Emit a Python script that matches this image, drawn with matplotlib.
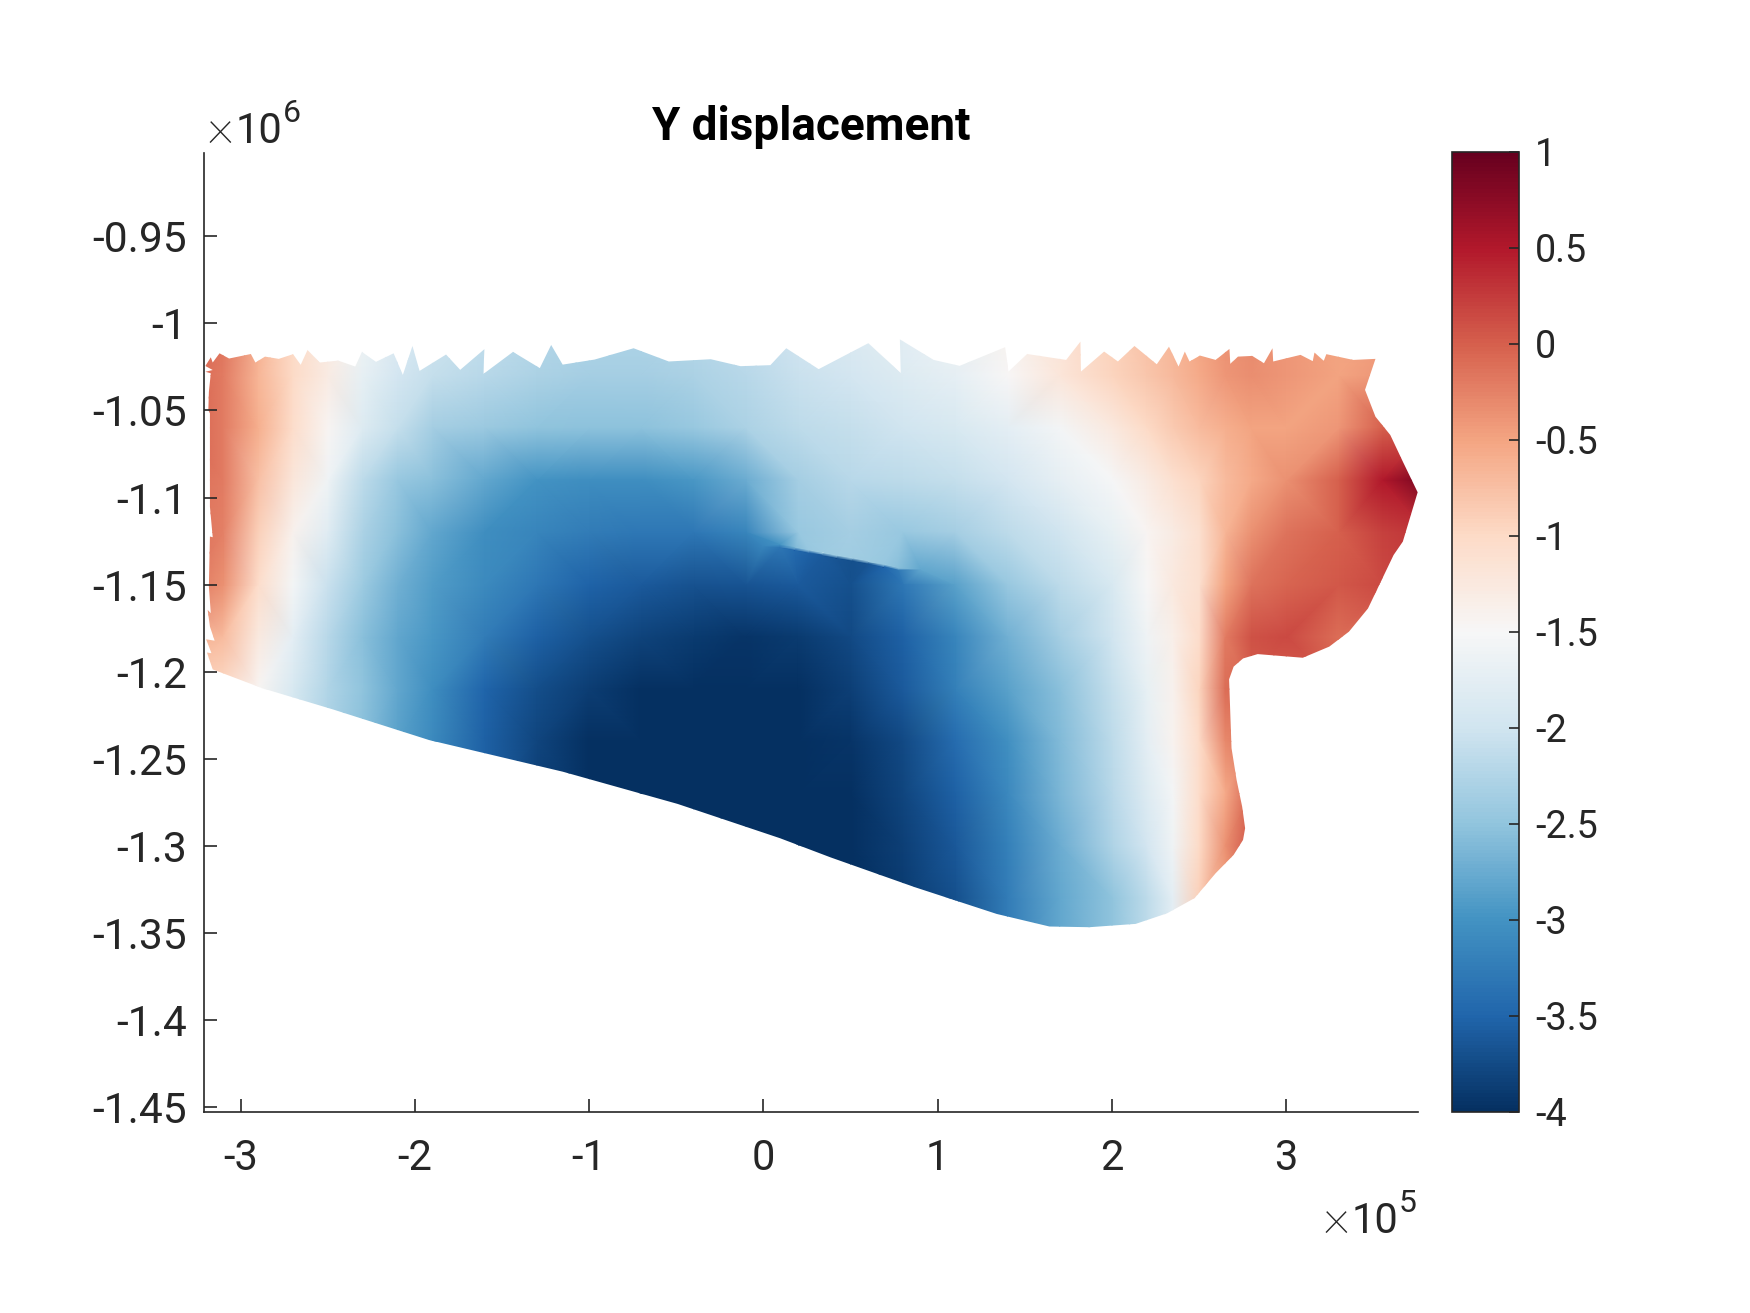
import numpy as np
import matplotlib
matplotlib.use('Agg')
import matplotlib.pyplot as plt
import matplotlib.tri as mtri
from matplotlib.patches import Polygon
from matplotlib.cm import ScalarMappable
from matplotlib.colors import Normalize

plt.rcParams['font.family'] = ['Roboto', 'DejaVu Sans']

# Displacement, x in 1e5, y in 1e6
x_cols = [-3.3, -3.1, -2.9, -2.7, -2.5, -2.3, -2.1, -1.9, -1.6, -1.3, -1.0, -0.7, -0.4, -0.1, 0.2,
          0.5, 0.8, 1.1, 1.4, 1.7, 2.0, 2.2, 2.35, 2.5, 2.65, 2.8, 3.0, 3.3, 3.55, 3.8]
y_rows = [-1.00, -1.03, -1.06, -1.09, -1.12, -1.15, -1.18, -1.21, -1.24, -1.27, -1.30, -1.33, -1.36]

r100 = [0, -.15, -.6, -1, -1.25, -1.6, -1.85, -2, -2.1, -2.2, -2.25, -2.25, -2.2, -2.1, -1.95,
        -1.85, -1.75, -1.6, -1.4, -1.15, -.9, -.75, -.65, -.5, -.35, -.3, -.4, -.5, -.45, -.4]
r103 = [-.05, -.2, -.65, -1, -1.3, -1.7, -1.95, -2.1, -2.2, -2.3, -2.35, -2.35, -2.3, -2.2, -2.05,
        -1.95, -1.85, -1.72, -1.5, -1.2, -.95, -.8, -.68, -.55, -.4, -.33, -.4, -.5, -.4, -.4]
r106 = [0, -.2, -.6, -1.05, -1.45, -1.85, -2.1, -2.35, -2.42, -2.5, -2.52, -2.52, -2.45, -2.3, -2.15,
        -2.1, -2, -1.9, -1.75, -1.55, -1.25, -1, -.85, -.7, -.6, -.5, -.5, -.4, 0, .1]
r109 = [-.1, -.2, -.75, -1.2, -1.6, -2.15, -2.45, -2.55, -2.8, -3, -3.05, -3.05, -2.95, -2.75, -2.35,
        -2.2, -2.15, -2.1, -1.95, -1.72, -1.52, -1.3, -1.1, -.95, -.7, -.55, -.35, 0, .5, .9]
r112 = [-.1, -.25, -.9, -1.4, -1.8, -2.3, -2.55, -2.8, -3.05, -3.15, -3.25, -3.3, -3.3, -3.15, -2.45,
        -2.35, -2.45, -2.35, -2.15, -2, -1.7, -1.45, -1.3, -1.1, -.65, -.35, -.15, 0, .2, .3]
r115 = [-.15, -.35, -1.05, -1.55, -2.05, -2.4, -2.7, -2.9, -3.1, -3.3, -3.52, -3.6, -3.68, -3.65, -3.6,
        -3.7, -3.3, -2.85, -2.45, -2.15, -1.9, -1.5, -1.25, -1.1, -.5, -.15, -.05, .05, .15, .15]
r118 = [-.6, -.7, -1.25, -1.75, -2.2, -2.55, -2.8, -2.95, -3.25, -3.55, -3.7, -3.82, -3.9, -3.95, -3.9,
        -3.75, -3.55, -3.15, -2.7, -2.35, -2, -1.6, -1.35, -1.05, -.2, .1, .15, -.1, -.1, -.1]
r121 = [-.9, -1, -1.45, -1.9, -2.25, -2.5, -2.8, -3.05, -3.5, -3.72, -3.88, -4.05, -4.2, -4.2, -4.05,
        -3.85, -3.6, -3.2, -2.85, -2.55, -2.1, -1.7, -1.4, -.95, -.1, 0, 0, 0, 0, 0]
r124 = [-1, -1.1, -1.5, -2, -2.3, -2.55, -2.85, -3.1, -3.55, -3.8, -4, -4.2, -4.3, -4.3, -4.15,
        -3.95, -3.75, -3.42, -3.03, -2.6, -2.15, -1.75, -1.42, -1.03, -.3, -.1, 0, 0, 0, 0]
r127 = [-1, -1.1, -1.5, -2, -2.3, -2.55, -2.85, -3.1, -3.55, -3.85, -4.1, -4.3, -4.4, -4.4, -4.3,
        -4, -3.8, -3.55, -3.12, -2.65, -2.2, -1.85, -1.55, -1.05, -.55, 0, 0, 0, 0, 0]
r130 = [-1, -1.1, -1.5, -2, -2.3, -2.55, -2.85, -3.1, -3.55, -3.85, -4.1, -4.3, -4.4, -4.4, -4.4,
        -4.1, -3.85, -3.62, -3.2, -2.75, -2.28, -1.95, -1.6, -1, -.35, .1, .1, .1, .1, .1]
r133 = [-1, -1.1, -1.5, -2, -2.3, -2.55, -2.85, -3.1, -3.55, -3.85, -4.1, -4.3, -4.4, -4.4, -4.4,
        -4.2, -3.9, -3.7, -3.25, -2.8, -2.5, -2.15, -1.75, -.9, -.5, 0, 0, 0, 0, 0]
r136 = [-1, -1.1, -1.5, -2, -2.3, -2.55, -2.85, -3.1, -3.55, -3.85, -4.1, -4.3, -4.4, -4.4, -4.4,
        -4.2, -3.9, -3.7, -3.25, -2.8, -2.5, -2.15, -1.75, -.9, -.5, 0, 0, 0, 0, 0]
field_rows = [r100, r103, r106, r109, r112, r115, r118, r121, r124, r127, r130, r133, r136]

# Fault: values jump across this line
fault_x = [0.095, 0.18, 0.26, 0.337, 0.42, 0.51, 0.602, 0.69, 0.771]
fault_y = [-1.1278, -1.1294, -1.1310, -1.1325, -1.1340, -1.1356, -1.1373, -1.1392, -1.1411]
fault_upper = [-3.0, -2.6, -2.45, -2.4, -2.38, -2.38, -2.4, -2.45, -2.55]
fault_lower = [-3.3, -3.45, -3.55, -3.6, -3.65, -3.7, -3.65, -3.5, -3.3]
fault_gap = 0.0006

# a few more readings just off the two fault tips
tip_x = [0.0, 0.9]
tip_y = [-1.128, -1.1411]
tip_z = [-3.15, -2.8]

# Outline of the model, clockwise from the top left corner
outline_x = [-3.198, -3.171, -3.160, -3.121, -3.066, -2.941, -2.915, -2.860, -2.781, -2.699, -2.655, -2.616,
             -2.546, -2.440, -2.342, -2.304, -2.223, -2.122, -2.069, -2.014, -1.973, -1.821, -1.740, -1.602,
             -1.606, -1.437, -1.283, -1.218, -1.152, -0.969, -0.745, -0.543, -0.302, -0.131, 0.040, 0.095,
             0.131, 0.317, 0.602, 0.788, 0.783, 0.977, 1.126, 1.387, 1.406, 1.513, 1.737, 1.819, 1.822,
             1.955, 2.034, 2.129, 2.257, 2.327, 2.382, 2.418, 2.445, 2.505, 2.595, 2.674, 2.679, 2.723,
             2.805, 2.872, 2.921, 2.925, 3.082, 3.152, 3.162, 3.215, 3.230, 3.384, 3.512,
             3.452, 3.512, 3.597, 3.669, 3.754, 3.669, 3.616, 3.469, 3.360, 3.247, 3.095, 2.836, 2.752,
             2.698, 2.672, 2.686, 2.715, 2.747, 2.764, 2.752, 2.698, 2.595, 2.474, 2.317, 2.136, 1.870,
             1.641, 1.339, 0.868, 0.385, 0.095, -0.493, -1.152, -1.920, -2.469, -2.875, -3.160,
             -3.193, -3.167, -3.198, -3.149, -3.176, -3.189, -3.171, -3.182, -3.176, -3.160, -3.176,
             -3.176, -3.185, -3.182, -3.171, -3.202, -3.160, -3.202]
outline_y = [-1.0238, -1.0195, -1.0225, -1.0172, -1.0202, -1.0176, -1.0225, -1.0191, -1.0204, -1.0177, -1.0238,
             -1.0153, -1.0225, -1.0214, -1.0248, -1.0164, -1.0221, -1.0172, -1.0296, -1.0130, -1.0273, -1.0179,
             -1.0267, -1.0149, -1.0290, -1.0164, -1.0257, -1.0124, -1.0237, -1.0208, -1.0143, -1.0219, -1.0206,
             -1.0246, -1.0240, -1.0181, -1.0143, -1.0263, -1.0114, -1.0286, -1.0092, -1.0210, -1.0244, -1.0137,
             -1.0277, -1.0176, -1.0210, -1.0105, -1.0277, -1.0162, -1.0219, -1.0130, -1.0235, -1.0134, -1.0248,
             -1.0162, -1.0219, -1.0185, -1.0210, -1.0147, -1.0233, -1.0191, -1.0187, -1.0229, -1.0143, -1.0219,
             -1.0181, -1.0217, -1.0168, -1.0216, -1.0177, -1.0210, -1.0204,
             -1.0382, -1.0536, -1.0641, -1.0794, -1.0970, -1.1253, -1.1330, -1.1637, -1.1770, -1.1856, -1.1920,
             -1.1899, -1.1924, -1.1971, -1.2044, -1.2439, -1.2621, -1.2775, -1.2899, -1.2966, -1.3052, -1.3157,
             -1.3300, -1.3387, -1.3448, -1.3467, -1.3463, -1.3391, -1.3237, -1.3066, -1.2956, -1.2759, -1.2574,
             -1.2392, -1.2217, -1.2095, -1.1987,
             -1.1890, -1.1894, -1.1814, -1.1822, -1.1741, -1.1645, -1.1664, -1.1512, -1.1224, -1.1228, -1.1053,
             -1.0517, -1.0498, -1.0393, -1.0287, -1.0278, -1.0268, -1.0245]

xticks = [-3, -2, -1, 0, 1, 2, 3]
xticklabels = ['-3', '-2', '-1', '0', '1', '2', '3']
yticks = [-1.45, -1.4, -1.35, -1.3, -1.25, -1.2, -1.15, -1.1, -1.05, -1, -0.95]
yticklabels = ['-1.45', '-1.4', '-1.35', '-1.3', '-1.25', '-1.2', '-1.15', '-1.1', '-1.05', '-1', '-0.95']
cticks = [-4, -3.5, -3, -2.5, -2, -1.5, -1, -0.5, 0, 0.5, 1]
cticklabels = ['-4', '-3.5', '-3', '-2.5', '-2', '-1.5', '-1', '-0.5', '0', '0.5', '1']

DARK = '#262626'
W, H = 1750, 1313

fig = plt.figure(figsize=(W / 200, H / 200), dpi=200, facecolor='white')
ax = fig.add_axes([204 / W, 1 - 1112 / H, (1418 - 204) / W, (1112 - 153) / H])
cax = fig.add_axes([1452 / W, 1 - 1112 / H, (1519 - 1452) / W, (1112 - 152) / H])

# Nodes: the grid plus both sides of the fault
gx, gy = np.meshgrid(x_cols, y_rows)
xn = np.r_[gx.ravel(), fault_x, fault_x, tip_x]
yn = np.r_[gy.ravel(), np.array(fault_y) + fault_gap, np.array(fault_y) - fault_gap, tip_y]
zn = np.r_[np.array(field_rows).ravel(), fault_upper, fault_lower, tip_z]

# in metres, so the triangles come out well shaped
triang = mtri.Triangulation(xn * 1e5, yn * 1e6)
mesh = ax.tripcolor(triang, zn, shading='gouraud', cmap='RdBu_r', vmin=-4, vmax=1)

outline = Polygon(np.c_[np.array(outline_x) * 1e5, np.array(outline_y) * 1e6],
                  closed=True, transform=ax.transData, facecolor='none', edgecolor='none')
ax.add_patch(outline)
mesh.set_clip_path(outline)

ax.set_xlim(-3.21e5, 3.756e5)
ax.set_ylim(-1.4528e6, -0.9022e6)
ax.set_xticks(np.array(xticks) * 1e5)
ax.set_xticklabels(xticklabels)
ax.set_yticks(np.array(yticks) * 1e6)
ax.set_yticklabels(yticklabels)
ax.spines['top'].set_visible(False)
ax.spines['right'].set_visible(False)
for s in ['left', 'bottom']:
    ax.spines[s].set_linewidth(0.6)
    ax.spines[s].set_color(DARK)
ax.tick_params(axis='x', direction='in', length=4.7, width=0.6, color=DARK, labelcolor=DARK, labelsize=15, pad=9.3)
ax.tick_params(axis='y', direction='in', length=4.7, width=0.6, color=DARK, labelcolor=DARK, labelsize=15.3, pad=6)
ax.set_title('Y displacement', fontsize=16.5, fontweight='bold', color='black', pad=4.8)

cb = fig.colorbar(ScalarMappable(Normalize(-4, 1), 'RdBu_r'), cax=cax)
cb.set_ticks(cticks)
cb.set_ticklabels(cticklabels)
cb.outline.set_linewidth(0.6)
cb.outline.set_edgecolor(DARK)
cax.tick_params(direction='in', length=3.6, width=0.6, color=DARK, labelcolor=DARK, labelsize=13.6, pad=5.8)

# axis exponents, placed by hand like the MATLAB ones
def exponent(px, py, power):
    fig.text(px / W, 1 - py / H, '\u00d7', fontsize=19, color=DARK, ha='left', va='baseline', fontweight='light')
    fig.text((px + 30) / W, 1 - py / H, '10', fontsize=15, color=DARK, ha='left', va='baseline')
    fig.text((px + 77) / W, 1 - (py - 21) / H, power, fontsize=11.5, color=DARK, ha='left', va='baseline')

exponent(206, 143, '6')
exponent(1322, 1233, '5')

fig.savefig('out.png', dpi=200)
